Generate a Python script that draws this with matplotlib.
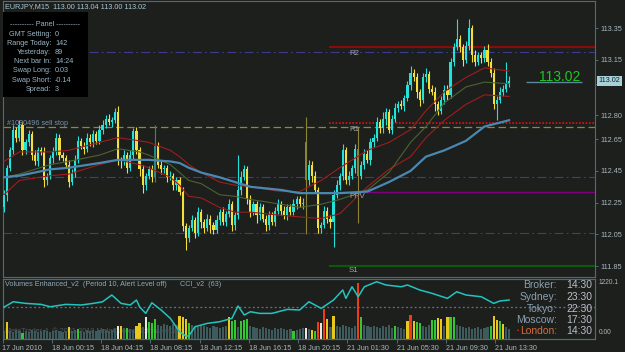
import matplotlib
matplotlib.use("Agg")
import matplotlib.pyplot as plt
from matplotlib.patches import Rectangle
import numpy as np

W, H = 625, 352
BG = '#1d1f1d'
EDGE = '#4f6c74'
TXT = '#a8b8c0'
FS = 5.2

# --- EURJPY M15 candles (price) ---
closes = [
    112.30, 112.47, 112.58, 112.71, 112.66, 112.74, 112.58, 112.63, 112.68, 112.55, 112.51, 112.58, 112.57, 112.39, 112.42,
    112.53, 112.57, 112.66, 112.55, 112.53, 112.49, 112.38, 112.44, 112.52, 112.64, 112.61, 112.59, 112.66, 112.63, 112.68,
    112.64, 112.71, 112.74, 112.78, 112.76, 112.77, 112.82, 112.52, 112.51, 112.55, 112.47, 112.55, 112.70, 112.58, 112.46,
    112.36, 112.42, 112.46, 112.41, 112.61, 112.49, 112.46, 112.47, 112.41, 112.42, 112.36, 112.39, 112.32, 112.10, 112.03,
    112.09, 112.14, 112.06, 112.19, 112.13, 112.09, 112.15, 112.11, 112.08, 112.14, 112.19, 112.13, 112.18, 112.24, 112.11,
    112.17, 112.33, 112.41, 112.46, 112.27, 112.19, 112.24, 112.17, 112.22, 112.15, 112.11, 112.17, 112.13, 112.20, 112.24,
    112.20, 112.17, 112.22, 112.19, 112.24, 112.27, 112.24, 112.25, 112.39, 112.49, 112.42, 112.33, 112.09, 112.11, 112.20,
    112.15, 112.13, 112.30, 112.36, 112.42, 112.58, 112.39, 112.42, 112.47, 112.59, 112.42, 112.49, 112.56, 112.52, 112.63,
    112.66, 112.76, 112.72, 112.78, 112.82, 112.71, 112.78, 112.85, 112.87, 112.86, 112.91, 112.99, 113.07, 113.04, 112.95,
    112.90, 113.04, 113.06, 112.97, 112.95, 112.87, 112.83, 112.90, 112.96, 112.93, 113.14, 113.23, 113.28, 113.23, 113.15,
    113.24, 113.35, 113.18, 113.14, 113.18, 113.16, 113.21, 113.14, 113.07, 112.87, 112.90, 112.95, 112.97, 113.00, 113.02,
]
first_open = 112.22
gap_opens = {98: 112.63}
# wick lengths in pips above / below the body
up_wick = [
    3, 2, 2, 3, 2, 3, 2, 2, 3, 2, 3, 2, 2, 3, 2,
    2, 3, 3, 2, 2, 2, 3, 2, 3, 3, 2, 2, 3, 2, 3,
    2, 3, 3, 2, 3, 2, 3, 4, 2, 3, 2, 3, 2, 3, 2,
    3, 2, 2, 3, 13, 2, 3, 2, 2, 3, 2, 2, 2, 3, 2,
    2, 3, 2, 3, 2, 2, 3, 2, 2, 3, 2, 3, 2, 3, 2,
    2, 22, 4, 3, 2, 3, 2, 2, 3, 2, 2, 3, 2, 2, 3,
    2, 3, 2, 2, 3, 2, 2, 3, 16, 3, 2, 3, 2, 2, 3,
    2, 2, 3, 3, 2, 4, 2, 3, 2, 3, 14, 2, 3, 2, 3,
    2, 3, 2, 4, 3, 2, 2, 3, 2, 3, 2, 3, 4, 2, 3,
    2, 3, 4, 2, 2, 3, 2, 2, 3, 3, 2, 3, 13, 3, 2,
    3, 6, 2, 3, 2, 2, 3, 4, 2, 3, 2, 3, 2, 14, 3,
]
dn_wick = [
    3, 4, 2, 2, 3, 2, 3, 2, 2, 3, 2, 3, 2, 4, 3,
    2, 3, 2, 3, 2, 2, 3, 2, 3, 2, 2, 3, 2, 2, 3,
    2, 2, 3, 2, 2, 3, 2, 3, 4, 2, 3, 2, 3, 2, 4,
    5, 3, 2, 3, 3, 2, 3, 2, 3, 2, 3, 3, 2, 3, 8,
    3, 2, 3, 2, 4, 3, 2, 5, 3, 2, 3, 2, 3, 2, 4,
    3, 2, 3, 2, 3, 3, 2, 5, 3, 2, 4, 3, 2, 3, 2,
    3, 2, 3, 2, 2, 3, 2, 3, 34, 3, 4, 2, 3, 3, 2,
    3, 4, 16, 2, 3, 3, 2, 3, 2, 3, 30, 2, 3, 2, 3,
    3, 2, 3, 3, 4, 2, 3, 2, 3, 2, 3, 2, 3, 2, 4,
    4, 2, 3, 3, 2, 4, 3, 2, 3, 3, 2, 3, 2, 3, 4,
    2, 3, 4, 3, 2, 3, 2, 3, 3, 3, 10, 2, 3, 2, 2,
]
dim_bars = [49, 98, 115]

# moving averages / bands read at some bars
ma_idx = [0, 5, 15, 21, 31, 37, 44, 47, 54, 57, 60, 64, 70, 75, 80, 90, 96, 103, 109, 118, 125, 132, 137, 143, 150, 156, 164]
ma_slow = [112.41, 112.42, 112.46, 112.47, 112.50, 112.52, 112.52, 112.52, 112.51, 112.50, 112.47, 112.44, 112.41, 112.38,
           112.35, 112.33, 112.31, 112.31, 112.31, 112.32, 112.38, 112.45, 112.54, 112.58, 112.64, 112.73, 112.77]
ma_mid = [112.41, 112.43, 112.49, 112.51, 112.55, 112.59, 112.57, 112.55, 112.49, 112.44, 112.39, 112.37, 112.30, 112.29,
          112.27, 112.24, 112.22, 112.24, 112.27, 112.33, 112.44, 112.63, 112.73, 112.88, 112.98, 113.01, 113.00]
band_upper = [112.51, 112.57, 112.57, 112.58, 112.63, 112.66, 112.64, 112.63, 112.58, 112.54, 112.49, 112.44, 112.38, 112.36,
              112.35, 112.32, 112.32, 112.39, 112.47, 112.58, 112.63, 112.71, 112.83, 112.95, 113.04, 113.10, 113.08]
band_lower = [112.30, 112.39, 112.42, 112.43, 112.49, 112.52, 112.49, 112.47, 112.41, 112.36, 112.29, 112.28, 112.22, 112.19,
              112.19, 112.17, 112.16, 112.15, 112.18, 112.35, 112.46, 112.54, 112.66, 112.77, 112.87, 112.93, 112.92]

# levels
level_r2, level_r1, level_pp, level_s1 = 113.23, 112.75, 112.32, 111.85
round_levels = [113.20, 112.41, 112.06]
sell_stop = 112.73
last_price = 113.02
pivot_start = 105.5

price_ticks = [113.35, 113.15, 113.00, 112.80, 112.65, 112.45, 112.25, 112.05, 111.85]
time_labels = ["17 Jun 2010", "18 Jun 00:15", "18 Jun 04:15", "18 Jun 08:15", "18 Jun 12:15", "18 Jun 16:15",
               "18 Jun 20:15", "21 Jun 01:30", "21 Jun 05:30", "21 Jun 09:30", "21 Jun 13:30"]

# --- indicator window ---
volumes = [
    160, 340, 160, 140, 180, 160, 120, 160, 140, 180, 160, 140, 160, 180, 160,
    140, 160, 180, 160, 140, 160, 240, 160, 180, 200, 160, 140, 180, 160, 180,
    160, 180, 200, 180, 160, 180, 200, 260, 260, 220, 220, 200, 180, 260, 320,
    240, 440, 340, 320, 400, 280, 260, 300, 280, 260, 300, 280, 460, 440, 400,
    320, 280, 260, 240, 280, 260, 240, 220, 260, 240, 220, 240, 260, 440, 360,
    380, 240, 360, 380, 400, 260, 240, 220, 200, 240, 220, 200, 180, 220, 200,
    220, 200, 180, 200, 160, 180, 200, 220, 220, 200, 180, 160, 340, 320, 600,
    400, 240, 460, 260, 240, 280, 260, 240, 220, 260, 1140, 440, 280, 260, 240,
    260, 240, 220, 260, 240, 280, 220, 260, 240, 220, 200, 360, 480, 360, 340,
    320, 260, 240, 280, 380, 380, 420, 400, 260, 440, 440, 440, 280, 260, 240,
    220, 240, 200, 220, 240, 200, 220, 240, 260, 460, 380, 360, 300, 240, 200,
]
vol_colors = ("-Y----G--------" "------Y--G-----" "-------WY-G--YY" "-WGGG-------YYY" "G------------YG"
              "G-GGG----------" "----G---W-YGRWR" "Y-Y-------RG---" "-------G---YRYG" "G---GGYY-YGG---"
              "--------GYYGY--")
cci_idx = [0, 3, 7, 12, 15, 20, 25, 29, 32, 35, 38, 41, 43, 44, 46, 48, 51, 54, 57, 59, 60, 62, 66, 70, 74, 76,
           78, 80, 83, 87, 92, 96, 99, 103, 107, 110, 111, 113, 115, 117, 121, 124, 129, 131, 135, 139, 144, 147,
           150, 155, 159, 161, 164]
cci_vals = [-3, 40, 27, 19, 0, 19, 14, 27, 40, 94, 27, 14, 54, 0, -53, 32, -26, -93, -200, -234, -234, -160, -133,
            -120, -93, 6, -66, -40, -53, -53, -21, -26, 40, -13, 54, 134, 67, 160, 80, 160, 200, 174, 160, 174, 134,
            107, 67, 120, 94, 80, 27, 46, 54]

clock_names = ["Broker:", "Sydney:", "Tokyo:", "Moscow:", "London:"]
clock_times = ["14:30", "23:30", "22:30", "17:30", "14:30"]
panel_labels = ["GMT Setting:", "Range Today:", "Yesterday:", "Next bar in:", "Swap Long:", "Swap Short:", "Spread:"]
panel_values = ["0", "142", "89", "14:24", "0.03", "-0.14", "3"]

plt.rcParams['font.family'] = ['Liberation Sans', 'DejaVu Sans']


def fx(x):
    return x / W


def fy(y):
    return 1 - y / H


fig = plt.figure(figsize=(W / 100, H / 100), dpi=100, facecolor=BG)
ax = fig.add_axes([fx(2.5), fy(277), 592.5 / W, 276 / H], facecolor=BG)
ax2 = fig.add_axes([fx(2.5), fy(339), 592.5 / W, 60 / H], facecolor=BG)
xlim = (-0.49, 191.9)

# candles
n = len(closes)
idx = np.arange(n)
c = np.array(closes)
o = np.array([first_open] + closes[:-1])
for k, v in gap_opens.items():
    o[k] = v
hi = np.maximum(o, c) + np.array(up_wick) * 0.01
lo = np.minimum(o, c) - np.array(dn_wick) * 0.01
cols = np.where(c >= o, '#22e2da', '#f2de3c').astype(object)
for k in dim_bars:
    cols[k] = '#2c8a86' if c[k] >= o[k] else '#8c8434'
body = np.where(np.abs(c - o) < 0.005, 0.005, c - o)
ax.vlines(idx, lo, hi, colors=list(cols), lw=0.8, zorder=3)
ax.bar(idx, body, bottom=o, width=0.7, color=list(cols), lw=0, zorder=3)

# levels
for lv in round_levels:
    ax.axhline(lv, color='#3c3c8e', lw=0.8, ls=(0, (8, 3, 1.5, 3)), zorder=1)
ax.axhline(sell_stop, color='#8c8c2a', lw=0.9, ls=(0, (6, 3)), zorder=1)
ax.hlines(level_r2, pivot_start, xlim[1], color='#8b0a0a', lw=1.5, zorder=2)
ax.hlines(level_r1, pivot_start, xlim[1], color='#e01010', lw=1.2, ls=(0, (1, 1)), zorder=2)
ax.hlines(level_pp, pivot_start, xlim[1], color='#800080', lw=1.0, zorder=2)
ax.hlines(level_s1, pivot_start, xlim[1], color='#0a5a0a', lw=1.5, zorder=2)
for name, lv in [("R2", 113.19), ("R1", 112.71), ("PPV", 112.29), ("S1", 111.82)]:
    ax.text(112, lv, name, color='#a0a4a8', fontsize=FS + 0.5, va='center', ha='left', zorder=6)
ax.text(1, sell_stop + 0.02, "#1030496 sell stop", color='#7890a8', fontsize=FS, va='center', zorder=6)

# moving averages
ax.plot(ma_idx, band_upper, color='#a01c1c', lw=0.8, zorder=4)
ax.plot(ma_idx, band_lower, color='#a01c1c', lw=0.8, zorder=4)
ax.plot(ma_idx, ma_mid, color='#4e6230', lw=0.8, zorder=4)
ax.plot(ma_idx, ma_slow, color='#4a88b0', lw=1.6, zorder=4)

# last price
ax.text(173.7, 113.045, "113.02", color='#1ec81e', fontsize=10, va='center', ha='left', zorder=6)
ax.hlines(113.01, 169.5, 187.7, color='#5a8a9a', lw=1, zorder=5)
ax.text(1.006, last_price, "113.02", transform=ax.get_yaxis_transform(), color='#102020', fontsize=FS,
        va='center', ha='left', clip_on=False, zorder=7,
        bbox=dict(boxstyle='square,pad=0.2', fc='#a8d0d8', ec='none'))

ax.set_xlim(*xlim)
ax.set_ylim(111.781, 113.522)
ax.set_xticks([])
ax.yaxis.tick_right()
ax.set_yticks(price_ticks)
ax.set_yticklabels([f"{p:.2f}" for p in price_ticks])
ax.tick_params(axis='y', direction='out', length=2.5, width=0.7, colors=EDGE, labelcolor=TXT, labelsize=FS, pad=1.5)

# indicator: volumes + CCI
vmap = {'-': '#3e5a5c', 'G': '#32c832', 'Y': '#e6c81e', 'W': '#e8e8e8', 'R': '#f03c14'}
ax2.bar(idx, volumes, width=0.7, color=[vmap[ch] for ch in vol_colors], lw=0, zorder=2)
ax2.set_xlim(*xlim)
ax2.set_ylim(0, 1220.1)
ax2.set_yticks([])
ticks = [-0.5 + 16 * k for k in range(len(time_labels))]
ax2.set_xticks(ticks)
ax2.set_xticklabels(time_labels, ha='left')
ax2.tick_params(axis='x', direction='out', length=3, width=0.7, colors=EDGE, labelcolor=TXT, labelsize=FS, pad=1)
ax2.text(2.5 / 592.5, 8 / 60, "MetaTrader 4, \u00a9 2001-2010 MetaQuotes Software Corp.", transform=ax2.transAxes,
         color='#4c5858', fontsize=FS, va='center', zorder=1)

ax3 = ax2.twinx()
ax3.set_ylim(-258, 222)
ax3.set_yticks([])
ax3.axhline(0, color='#6a7088', lw=0.9, ls=(0, (1.5, 2)), zorder=1)
ax3.plot(cci_idx, cci_vals, color='#22c4be', lw=1.1, zorder=3)

for a in (ax, ax2, ax3):
    for s in a.spines.values():
        s.set_color(EDGE)
        s.set_linewidth(0.8)

# figure texts
fig.text(fx(5), fy(7), "EURJPY,M15  113.00 113.04 113.00 113.02", color='#a8c8d8', fontsize=FS, va='center')
fig.text(fx(599), fy(283), "1220.1", color=TXT, fontsize=FS - 0.4, va='center')
fig.text(fx(599), fy(333), "0.00", color=TXT, fontsize=FS - 0.4, va='center')
fig.text(fx(5), fy(285), "Volumes Enhanced_v2  (Period 10, Alert Level off)", color='#90a8b8', fontsize=FS, va='center')
fig.text(fx(180), fy(285), "CCI_v2  (63)", color='#90a8b8', fontsize=FS, va='center')

fig.patches.append(Rectangle((fx(3), fy(97)), 85 / W, 85 / H, transform=fig.transFigure,
                             fc='#000000', ec='none', zorder=5))
fig.text(fx(45), fy(25), "---------- Panel ----------", color='#9ab4c4', fontsize=FS,
         ha='center', va='center', zorder=6)
for k, (lab, val) in enumerate(zip(panel_labels, panel_values)):
    yy = 34 + 9.2 * k
    fig.text(fx(51), fy(yy), lab, color='#9ab4c4', fontsize=FS, ha='right', va='center', zorder=6)
    fig.text(fx(55), fy(yy), val, color='#9ab4c4', fontsize=FS, ha='left', va='center', zorder=6)

for k, (nm, tm) in enumerate(zip(clock_names, clock_times)):
    yy = 285.5 + 11.5 * k
    ncol = '#d86a3a' if nm == "London:" else '#8aa0b0'
    fig.text(fx(557), fy(yy), nm, color=ncol, fontsize=7.5, ha='right', va='center')
    fig.text(fx(566), fy(yy), tm, color='#b8c0c8', fontsize=7.5, ha='left', va='center')
fig.text(fx(518), fy(330.5), "\u2022", color='#e03020', fontsize=4.5, ha='center', va='center')

fig.savefig("out.png", dpi=100, facecolor=BG)
